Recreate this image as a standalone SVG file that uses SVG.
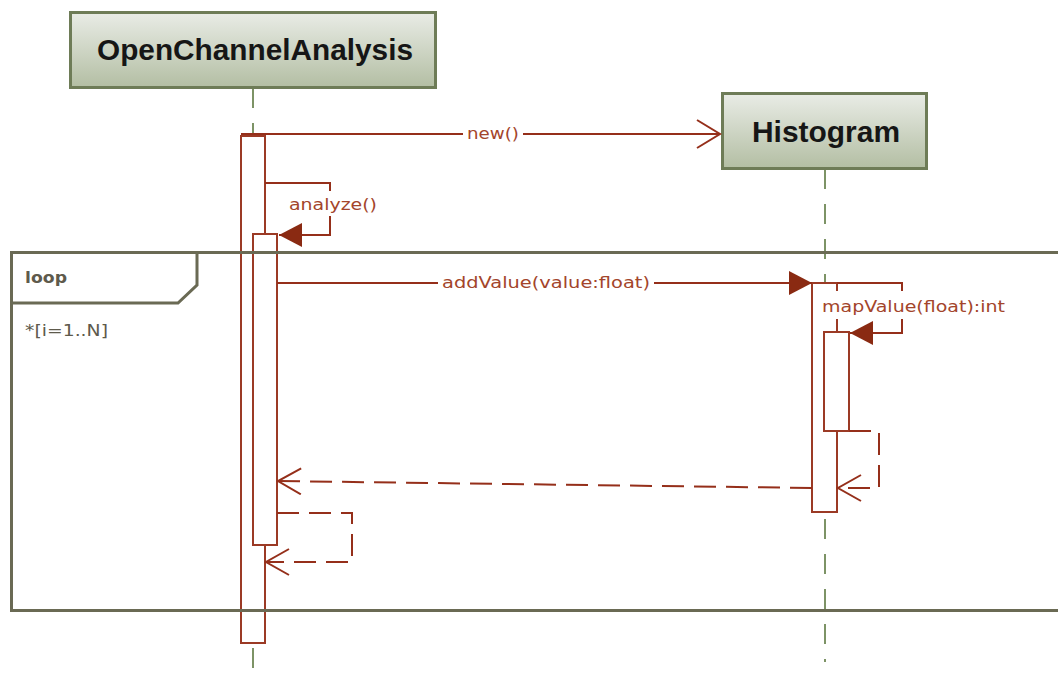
<svg xmlns="http://www.w3.org/2000/svg" width="1058" height="682" viewBox="0 0 1058 682">
  <defs>
    <linearGradient id="headFill" x1="0" y1="0" x2="0" y2="1">
      <stop offset="0" stop-color="#e9ece6"/>
      <stop offset="1" stop-color="#b3bea3"/>
    </linearGradient>
    <marker id="filled" markerUnits="userSpaceOnUse" markerWidth="26" markerHeight="26" refX="23" refY="12" orient="auto">
      <path d="M0,0 L23,12 L0,24 z" fill="#8a2a12"/>
    </marker>
    <marker id="open" markerUnits="userSpaceOnUse" markerWidth="28" markerHeight="32" refX="24" refY="15" orient="auto">
      <path d="M1,1 L24,15 L1,29" fill="none" stroke="#952f1a" stroke-width="2"/>
    </marker>
    <marker id="openSmall" markerUnits="userSpaceOnUse" markerWidth="28" markerHeight="30" refX="24" refY="14" orient="auto">
      <path d="M1,1 L24,14 L1,27" fill="none" stroke="#952f1a" stroke-width="2"/>
    </marker>
  </defs>
  <style>
    .head { fill: url(#headFill); stroke: #6e7c57; stroke-width: 3; }
    .headText { font-family: "Liberation Sans", Arial, sans-serif; font-weight: bold; font-size: 29px; fill: #161616; }
    .life { stroke: #7d9366; stroke-width: 2; stroke-dasharray: 20 15; fill: none; }
    .bar { fill: #ffffff; stroke: #9b3a25; stroke-width: 2; }
    .msg { stroke: #952f1a; stroke-width: 2; fill: none; }
    .ret { stroke: #952f1a; stroke-width: 2; fill: none; stroke-dasharray: 22 10; }
    .lbl { font-family: "DejaVu Sans", Verdana, sans-serif; font-size: 15px; fill: #a3452b; }
    .frame { fill: none; stroke: #6a6a54; stroke-width: 3; }
    .frameText { font-family: "DejaVu Sans", Verdana, sans-serif; font-size: 15px; fill: #5e5a4c; }
  </style>

  <!-- lifelines -->
  <g id="lifelines">
    <line class="life" x1="253" y1="88" x2="253" y2="682"/>
    <line class="life" x1="825" y1="169" x2="825" y2="662"/>
  </g>

  <!-- participant: OpenChannelAnalysis -->
  <g id="open-channel-analysis">
    <rect class="head" x="70.5" y="12.5" width="365" height="75"/>
    <text class="headText" x="97" y="60" textLength="316" lengthAdjust="spacingAndGlyphs">OpenChannelAnalysis</text>
    <rect class="bar" x="241" y="136" width="24" height="507"/>
    <rect class="bar" x="253" y="234" width="24" height="311"/>
  </g>

  <!-- participant: Histogram -->
  <g id="histogram">
    <rect class="head" x="722.5" y="93.5" width="204" height="75"/>
    <text class="headText" x="752" y="142" textLength="148" lengthAdjust="spacingAndGlyphs">Histogram</text>
    <rect class="bar" x="812" y="283" width="25" height="229"/>
  </g>

  <!-- combined fragment: loop -->
  <g id="loop-fragment">
    <rect class="frame" x="11.5" y="252.5" width="1060" height="358"/>
    <path class="frame" d="M11.5,303 H178 L197,285 V252.5"/>
    <text class="frameText" x="25" y="283" font-weight="bold" textLength="42" lengthAdjust="spacingAndGlyphs">loop</text>
    <text class="frameText" x="25" y="336" fill="#6a6a6a" textLength="83" lengthAdjust="spacingAndGlyphs">*[i=1..N]</text>
  </g>

  <!-- nested activation on Histogram -->
  <g id="histogram-inner">
    <rect class="bar" x="824" y="332" width="25" height="99"/>
  </g>

  <!-- messages -->
  <g id="connectors">
    <!-- new() -->
    <line class="msg" x1="241" y1="134" x2="720" y2="134" marker-end="url(#open)"/>
    <rect x="463" y="124" width="60" height="20" fill="#ffffff"/>
    <text class="lbl" x="467" y="139" textLength="52" lengthAdjust="spacingAndGlyphs">new()</text>

    <!-- analyze() -->
    <path class="msg" d="M265,183 H330 V235 H279" marker-end="url(#filled)"/>
    <rect x="287" y="191" width="92" height="25" fill="#ffffff"/>
    <text class="lbl" x="289" y="210" textLength="88" lengthAdjust="spacingAndGlyphs">analyze()</text>

    <!-- addValue(value:float) -->
    <line class="msg" x1="277" y1="283" x2="812" y2="283" marker-end="url(#filled)"/>
    <rect x="438" y="272" width="216" height="20" fill="#ffffff"/>
    <text class="lbl" x="442" y="288" textLength="208" lengthAdjust="spacingAndGlyphs">addValue(value:float)</text>

    <!-- mapValue(float):int -->
    <path class="msg" d="M837,283 H902 V333 H850" marker-end="url(#filled)"/>
    <rect x="820" y="291" width="190" height="28" fill="#ffffff"/>
    <text class="lbl" x="822" y="312" textLength="183" lengthAdjust="spacingAndGlyphs">mapValue(float):int</text>

    <!-- return from mapValue -->
    <path class="ret" d="M849,431 H879 V488 H838" marker-end="url(#openSmall)"/>

    <!-- return from addValue -->
    <line class="ret" x1="812" y1="488" x2="278" y2="481" marker-end="url(#openSmall)"/>

    <!-- return from analyze -->
    <path class="ret" d="M277,513 H352 V562 H266" marker-end="url(#openSmall)"/>
  </g>
</svg>
